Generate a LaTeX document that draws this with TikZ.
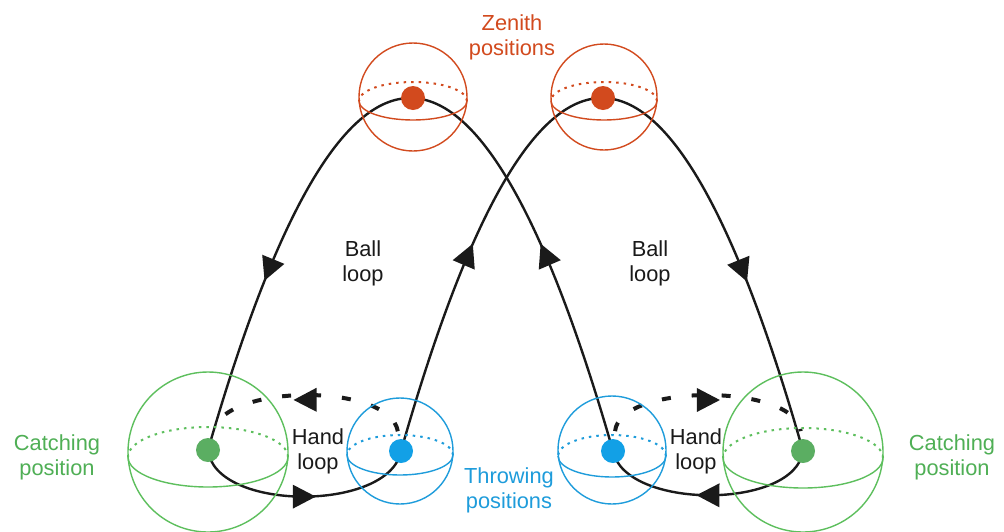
\documentclass[tikz,border=0pt]{standalone}
\usepackage{fontspec}
\setmainfont{Liberation Sans}
\usetikzlibrary{arrows.meta,decorations.markings}
\definecolor{zred}{HTML}{D24A1E}
\definecolor{cgreen}{HTML}{5DBF5D}
\definecolor{tgreen}{HTML}{4FAF55}
\definecolor{dgreen}{HTML}{5BAE62}
\definecolor{tblue}{HTML}{1E9CDB}
\definecolor{dblue}{HTML}{12A0E6}
\definecolor{ink}{HTML}{1A1A1A}
\pgfdeclarelayer{bg}
\pgfdeclarelayer{paper}
\pgfsetlayers{paper,bg,main}
\newcommand{\headtri}{\fill[ink,solid] (12pt,0pt) -- (-11pt,12pt) -- (-11pt,-12pt) -- cycle;}
\tikzset{
  lbl/.style={align=center,font=\fontsize{21.8}{25}\selectfont,inner sep=0pt},
  dot/.style={circle,inner sep=0pt,minimum size=24pt},
  sph/.style={line width=1.4pt},
  back/.style={line width=2pt,dash pattern=on 2.5pt off 5pt},
  ball/.style={draw=ink,line width=2.4pt},
  hand/.style={draw=ink,line width=2.4pt},
  dash hand/.style={draw=ink,line width=4pt,dash pattern=on 9pt off 21pt},
  mark at/.style={postaction={decorate},decoration={markings,mark=at position #1 with {\headtri}}},
  mark two/.style 2 args={postaction={decorate},decoration={markings,
     mark=at position #1 with {\headtri},
     mark=at position #2 with {\headtri}}}
}
\newcommand{\sphere}[6]{% color, cx, cy, r, ecy, ry
  \draw[#1,sph] (#2,#3) circle[radius=#4pt];
  \draw[#1,back] (#2,#5) ++(#4,0) arc[start angle=0,end angle=180,x radius=#4pt,y radius=#6pt];
  \draw[#1,sph] (#2,#5) ++(-#4,0) arc[start angle=180,end angle=360,x radius=#4pt,y radius=#6pt];
}
\begin{document}
\begin{tikzpicture}[x=1pt,y=-1pt]
\useasboundingbox (0,0) rectangle (1004,531);
\begin{pgfonlayer}{paper}
\fill[white] (0,0) rectangle (1004,531);
\end{pgfonlayer}
% spheres
\sphere{zred}{413}{97}{54}{101}{19}
\sphere{zred}{604}{97}{53}{101}{19}
\sphere{cgreen}{208}{452}{80}{457}{30}
\sphere{cgreen}{803}{452}{80}{458}{30}
\sphere{tblue}{400}{451}{53}{455}{20}
\sphere{tblue}{612}{450}{54}{456}{21}
% dots
\node[dot,fill=zred] (zL) at (413,98) {};
\node[dot,fill=zred] (zR) at (603,98) {};
\node[dot,fill=dgreen] (gL) at (208,450) {};
\node[dot,fill=dgreen] (gR) at (803,451) {};
\node[dot,fill=dblue] (bL) at (401,451) {};
\node[dot,fill=dblue] (bR) at (613,451) {};
% labels
\node[lbl,text=zred] (tz) at (512,37) {Zenith\\positions};
\node[lbl,text=tgreen] (tcl) at (57,457) {Catching\\position};
\node[lbl,text=tgreen] (tcr) at (952,457) {Catching\\position};
\node[lbl,text=tblue] (tt) at (509,490) {Throwing\\positions};
\node[lbl,text=ink] (bl1) at (363,263) {Ball\\loop};
\node[lbl,text=ink] (bl2) at (650,263) {Ball\\loop};
\node[lbl,text=ink] (hl1) at (318,451) {Hand\\loop};
\node[lbl,text=ink] (hl2) at (696,451) {Hand\\loop};
% curves
\begin{pgfonlayer}{bg}
\draw[ball,mark two={0.245}{0.775}] (bR.center) .. controls (478,-19.3) and (343,-19.7) .. (gL.center);
\draw[ball,mark two={0.245}{0.775}] (bL.center) .. controls (535,-19.7) and (669,-19.7) .. (gR.center);
\draw[hand,mark at=0.5] (gL.center) .. controls (215,512) and (390,512) .. (bL.center);
\draw[hand,mark at=0.5] (gR.center) .. controls (795,510) and (625,510) .. (bR.center);
\draw[dash hand,shorten <=20pt,shorten >=20pt,mark at=0.5] (bL.center) .. controls (390,383) and (226,383) .. (gL.center);
\draw[dash hand,shorten <=20pt,shorten >=20pt,mark at=0.5] (bR.center) .. controls (620,383) and (795,383) .. (gR.center);
\end{pgfonlayer}
\end{tikzpicture}
\end{document}
